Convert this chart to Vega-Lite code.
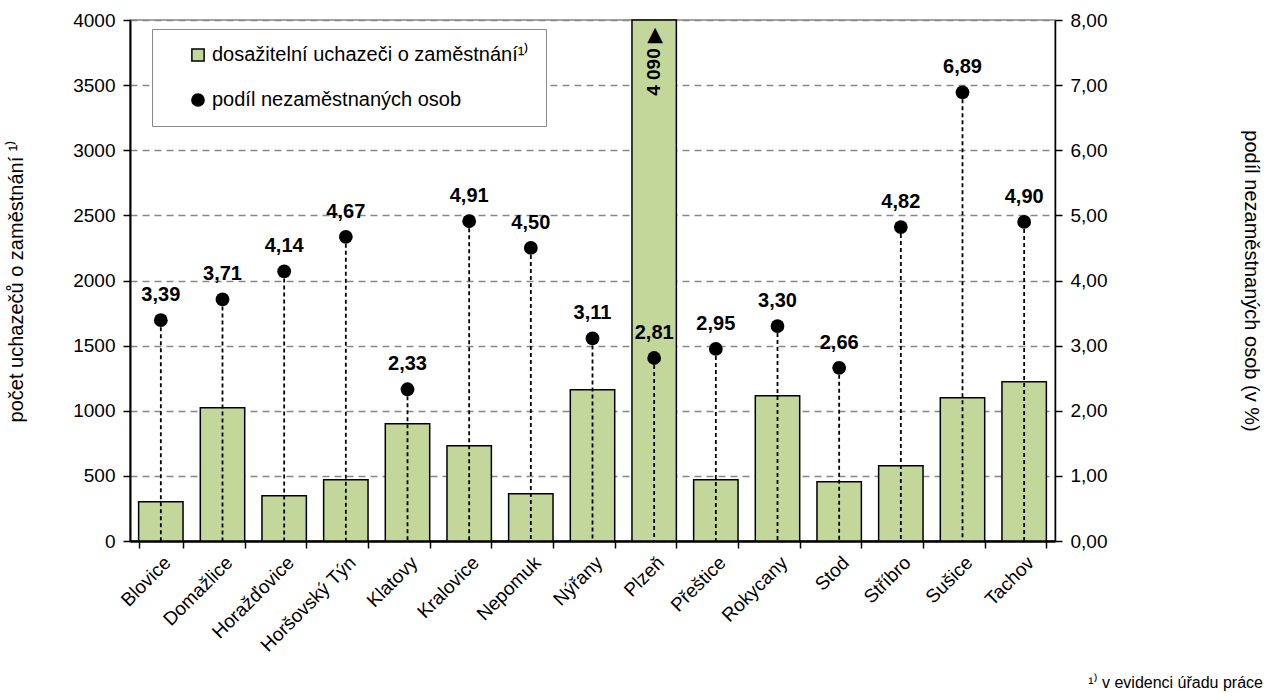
{
  "$schema": "https://vega.github.io/schema/vega-lite/v6.json",
  "width": 925,
  "height": 521,
  "autosize": "none",
  "padding": {"left": 130, "top": 20, "right": 216, "bottom": 158},
  "config": {
    "locale": {"number": {"decimal": ",", "thousands": " ", "grouping": [3], "currency": ["", ""]}},
    "font": "Liberation Sans",
    "view": {"stroke": "#888888", "strokeWidth": 1.5},
    "axis": {"labelFont": "Liberation Sans", "titleFont": "Liberation Sans", "labelColor": "black", "titleColor": "black", "titleFontWeight": "normal"}
  },
  "title": {"text": "¹⁾ v evidenci úřadu práce", "orient": "bottom", "anchor": "end", "frame": "bounds", "fontSize": 16, "fontWeight": "normal", "font": "Liberation Sans", "color": "black", "offset": 20, "dx": 2},
  "data": {"values": [
    {"okres": "Blovice", "uchazeci": 302, "podil": 3.39},
    {"okres": "Domažlice", "uchazeci": 1023, "podil": 3.71},
    {"okres": "Horažďovice", "uchazeci": 347, "podil": 4.14},
    {"okres": "Horšovský Týn", "uchazeci": 470, "podil": 4.67},
    {"okres": "Klatovy", "uchazeci": 900, "podil": 2.33},
    {"okres": "Kralovice", "uchazeci": 731, "podil": 4.91},
    {"okres": "Nepomuk", "uchazeci": 362, "podil": 4.50},
    {"okres": "Nýřany", "uchazeci": 1162, "podil": 3.11},
    {"okres": "Plzeň", "uchazeci": 4090, "podil": 2.81},
    {"okres": "Přeštice", "uchazeci": 470, "podil": 2.95},
    {"okres": "Rokycany", "uchazeci": 1115, "podil": 3.30},
    {"okres": "Stod", "uchazeci": 455, "podil": 2.66},
    {"okres": "Stříbro", "uchazeci": 577, "podil": 4.82},
    {"okres": "Sušice", "uchazeci": 1100, "podil": 6.89},
    {"okres": "Tachov", "uchazeci": 1223, "podil": 4.90}
  ]},
  "layer": [
    {
      "layer": [
        {
          "mark": {"type": "bar", "stroke": "black", "strokeWidth": 1.5},
          "encoding": {
            "x": {
              "field": "okres", "type": "nominal", "sort": null,
              "scale": {"paddingInner": 0.28, "paddingOuter": 0.14},
              "axis": {"title": null, "labelAngle": -45, "labelFontSize": 19, "labelPadding": 5, "tickBand": "extent", "tickSize": 7, "tickColor": "black", "tickWidth": 1.5, "domainColor": "black", "domainWidth": 2.5, "grid": false}
            },
            "y": {
              "field": "uchazeci", "type": "quantitative",
              "scale": {"domain": [0, 4000], "clamp": true, "nice": false},
              "axis": {"title": "počet uchazečů o zaměstnání ¹⁾", "titleFontSize": 20, "titlePadding": 46, "values": [0, 500, 1000, 1500, 2000, 2500, 3000, 3500, 4000], "format": "d", "labelFontSize": 19, "labelPadding": 8, "tickSize": 7, "tickColor": "black", "tickWidth": 1.5, "domainColor": "black", "domainWidth": 2, "grid": true, "gridColor": "#888888", "gridDash": [7, 5], "gridWidth": 1.5}
            },
            "color": {
              "datum": "dosažitelní uchazeči o zaměstnání¹⁾",
              "scale": {"domain": ["dosažitelní uchazeči o zaměstnání¹⁾", "podíl nezaměstnaných osob"], "range": ["#c4d79b", "black"]},
              "legend": {"orient": "none", "legendX": 22, "legendY": 9, "title": null, "fillColor": "white", "strokeColor": "#888888", "padding": 16, "labelFontSize": 20, "labelFont": "Liberation Sans", "labelColor": "black", "labelLimit": 600, "symbolSize": 150, "symbolStrokeColor": "black", "symbolStrokeWidth": 1.5, "rowPadding": 25, "labelOffset": 4, "symbolOffset": 20}
            }
          }
        },
        {
          "transform": [{"filter": "datum.uchazeci > 4000"}],
          "mark": {"type": "text", "angle": 270, "align": "right", "baseline": "middle", "dx": -8, "fontWeight": "bold", "fontSize": 19, "color": "black"},
          "encoding": {
            "x": {"field": "okres", "type": "nominal", "sort": null},
            "y": {"field": "uchazeci", "type": "quantitative"},
            "text": {"value": "4 090 ▶"}
          }
        }
      ]
    },
    {
      "layer": [
        {
          "mark": {"type": "rule", "strokeDash": [4, 3], "strokeWidth": 1.8, "color": "black"},
          "encoding": {
            "x": {"field": "okres", "type": "nominal", "sort": null},
            "y": {"field": "podil", "type": "quantitative"},
            "y2": {"datum": 0}
          }
        },
        {
          "mark": {"type": "point", "filled": true, "opacity": 1, "size": 190},
          "encoding": {
            "x": {"field": "okres", "type": "nominal", "sort": null},
            "y": {
              "field": "podil", "type": "quantitative",
              "scale": {"domain": [0, 8], "nice": false},
              "axis": {"orient": "right", "title": "podíl nezaměstnaných osob (v %)", "titleFontSize": 20, "titlePadding": 134, "values": [0, 1, 2, 3, 4, 5, 6, 7, 8], "format": ".2f", "labelFontSize": 19, "labelPadding": 8, "tickSize": 7, "tickColor": "black", "tickWidth": 1.5, "domainColor": "black", "domainWidth": 1.5, "grid": false}
            },
            "color": {"datum": "podíl nezaměstnaných osob"},
            "shape": {
              "datum": "podíl nezaměstnaných osob",
              "scale": {"domain": ["dosažitelní uchazeči o zaměstnání¹⁾", "podíl nezaměstnaných osob"], "range": ["square", "circle"]}
            }
          }
        },
        {
          "mark": {"type": "text", "fontWeight": "bold", "fontSize": 20, "baseline": "middle", "dy": -25, "color": "black"},
          "encoding": {
            "x": {"field": "okres", "type": "nominal", "sort": null},
            "y": {"field": "podil", "type": "quantitative"},
            "text": {"field": "podil", "type": "quantitative", "format": ".2f"}
          }
        }
      ]
    }
  ],
  "resolve": {"scale": {"y": "independent"}}
}
